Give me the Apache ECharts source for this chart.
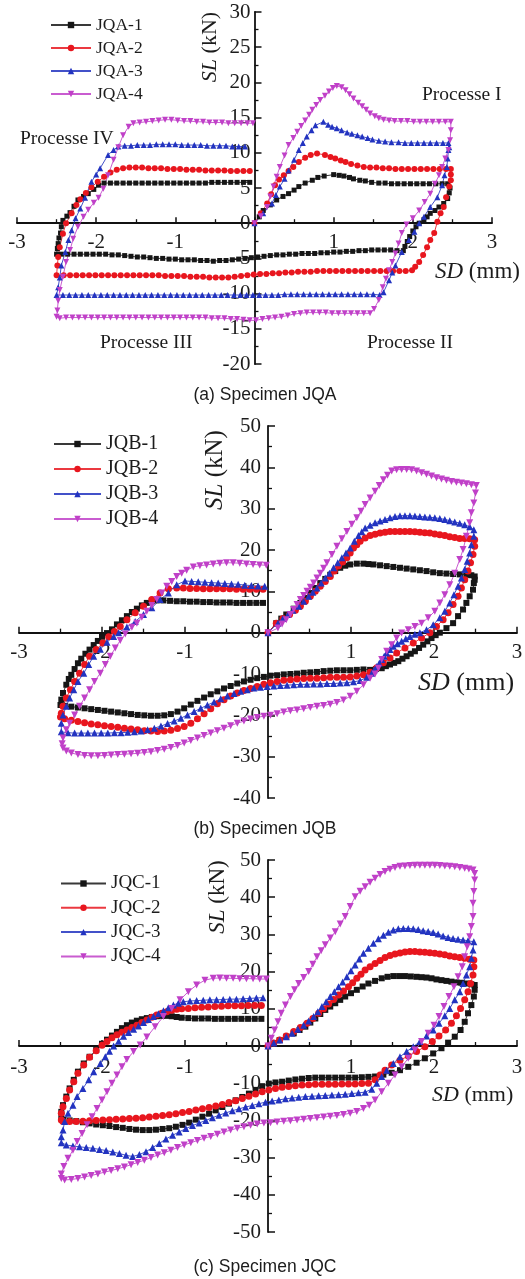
<!DOCTYPE html>
<html>
<head>
<meta charset="utf-8">
<script src="https://cdn.jsdelivr.net/npm/echarts@6/dist/echarts.min.js"></script>
<style>
html, body { margin: 0; padding: 0; background: #fff; }
#chart { width: 525px; height: 1279px; }
</style>
</head>
<body>
<div id="chart"></div>
<script>
// legend names
const namesA = ['JQA-1', 'JQA-2', 'JQA-3', 'JQA-4'];
const namesB = ['JQB-1', 'JQB-2', 'JQB-3', 'JQB-4'];
const namesC = ['JQC-1', 'JQC-2', 'JQC-3', 'JQC-4'];
const captions = ['(a) Specimen JQA', '(b) Specimen JQB', '(c) Specimen JQC'];

// (a) Specimen JQA  -- [SD mm, SL kN] read along each loop
const jqa1 = [[0,0],[0.06,0.9],[0.11,1.8],[0.2,2.6],[0.28,3.3],[0.36,3.8],[0.43,4.2],[0.5,4.7],[0.56,5.2],[0.64,5.7],[0.73,6.1],[0.8,6.5],[0.88,6.7],[1.0,6.9],[1.07,6.8],[1.13,6.7],[1.2,6.5],[1.25,6.3],[1.33,6.1],[1.4,6.0],[1.48,5.8],[1.57,5.7],[1.65,5.7],[1.73,5.6],[1.81,5.6],[1.89,5.6],[1.97,5.6],[2.05,5.6],[2.13,5.6],[2.21,5.6],[2.29,5.6],[2.37,5.6],[2.44,5.6],
  [2.47,5.0],[2.46,4.3],[2.44,3.5],[2.39,2.8],[2.33,2.3],[2.28,1.8],[2.22,1.4],[2.18,0.9],[2.14,0.5],[2.08,0],[2.04,-0.5],[2.0,-1.1],[1.96,-1.9],[1.93,-2.6],[1.9,-3.3],[1.88,-3.9],
  [1.8,-3.9],[1.72,-3.8],[1.64,-3.8],[1.56,-3.8],[1.48,-3.8],[1.4,-3.9],[1.32,-3.9],[1.24,-4.0],[1.16,-4.0],[1.08,-4.1],[1.0,-4.1],[0.92,-4.2],[0.84,-4.2],[0.76,-4.3],[0.68,-4.3],[0.6,-4.3],[0.52,-4.4],[0.44,-4.4],[0.36,-4.5],[0.28,-4.5],[0.2,-4.6],[0.12,-4.7],[0.04,-4.8],[-0.04,-4.9],[-0.12,-5.0],[-0.2,-5.1],[-0.28,-5.2],[-0.36,-5.3],[-0.44,-5.3],[-0.52,-5.4],[-0.6,-5.3],[-0.68,-5.3],[-0.76,-5.2],[-0.84,-5.2],[-0.92,-5.2],[-1.0,-5.1],[-1.08,-5.1],[-1.16,-5.0],[-1.24,-5.0],[-1.32,-4.9],[-1.4,-4.8],[-1.48,-4.8],[-1.56,-4.7],[-1.64,-4.6],[-1.72,-4.5],[-1.8,-4.5],[-1.88,-4.4],[-1.96,-4.4],[-2.04,-4.4],[-2.12,-4.4],[-2.2,-4.4],[-2.28,-4.4],[-2.36,-4.4],[-2.44,-4.4],[-2.5,-4.4],
  [-2.49,-3.6],[-2.48,-2.9],[-2.47,-2.1],[-2.45,-1.4],[-2.44,-0.5],[-2.42,0.4],[-2.37,1.0],[-2.33,1.5],[-2.28,2.4],[-2.23,3.3],[-2.16,3.8],[-2.1,4.2],[-2.03,4.8],[-1.97,5.4],[-1.9,5.7],
  [-1.82,5.7],[-1.74,5.7],[-1.66,5.7],[-1.58,5.7],[-1.5,5.7],[-1.42,5.7],[-1.34,5.7],[-1.26,5.7],[-1.18,5.7],[-1.1,5.7],[-1.02,5.7],[-0.94,5.7],[-0.86,5.7],[-0.78,5.7],[-0.7,5.7],[-0.62,5.7],[-0.54,5.8],[-0.46,5.8],[-0.38,5.8],[-0.3,5.8],[-0.22,5.8],[-0.14,5.8],[-0.06,5.8]];

const jqa2 = [[0,0],[0.08,1.4],[0.16,2.8],[0.21,4.1],[0.26,5.4],[0.31,6.2],[0.37,6.8],[0.43,7.4],[0.49,8.0],[0.56,8.7],[0.64,9.3],[0.71,9.7],[0.79,9.9],[0.89,9.7],[0.96,9.4],[1.02,9.2],[1.09,8.9],[1.15,8.7],[1.22,8.4],[1.3,8.2],[1.38,8.0],[1.46,7.9],[1.54,7.9],[1.62,7.8],[1.7,7.8],[1.78,7.7],[1.86,7.7],[1.94,7.7],[2.02,7.7],[2.1,7.7],[2.18,7.7],[2.26,7.7],[2.34,7.7],[2.42,7.7],[2.48,7.7],
  [2.48,6.9],[2.48,6.1],[2.46,5.2],[2.42,3.7],[2.39,2.3],[2.35,1.4],[2.31,0.2],[2.27,-1.4],[2.22,-2.4],[2.18,-3.4],[2.13,-4.5],[2.08,-5.5],[2.03,-6.2],[1.99,-6.7],
  [1.91,-6.8],[1.83,-6.8],[1.75,-6.8],[1.67,-6.8],[1.59,-6.8],[1.51,-6.8],[1.43,-6.8],[1.35,-6.8],[1.27,-6.8],[1.19,-6.8],[1.11,-6.8],[1.03,-6.8],[0.95,-6.8],[0.87,-6.8],[0.79,-6.8],[0.71,-6.9],[0.63,-6.9],[0.55,-6.9],[0.47,-7.0],[0.39,-7.0],[0.31,-7.1],[0.23,-7.1],[0.15,-7.2],[0.07,-7.2],[-0.01,-7.3],[-0.09,-7.4],[-0.17,-7.5],[-0.25,-7.6],[-0.33,-7.7],[-0.41,-7.7],[-0.49,-7.7],[-0.57,-7.7],[-0.65,-7.6],[-0.73,-7.6],[-0.81,-7.6],[-0.89,-7.5],[-0.97,-7.5],[-1.05,-7.5],[-1.13,-7.5],[-1.21,-7.4],[-1.29,-7.4],[-1.37,-7.4],[-1.45,-7.4],[-1.53,-7.4],[-1.61,-7.4],[-1.69,-7.4],[-1.77,-7.4],[-1.85,-7.4],[-1.93,-7.4],[-2.01,-7.4],[-2.09,-7.4],[-2.17,-7.4],[-2.25,-7.4],[-2.33,-7.4],[-2.41,-7.4],[-2.5,-7.4],
  [-2.49,-6.0],[-2.48,-4.8],[-2.46,-3.4],[-2.42,-1.5],[-2.38,0],[-2.31,1.4],[-2.25,2.6],[-2.2,3.4],[-2.13,4.3],[-2.06,5.1],[-1.98,5.9],[-1.9,6.6],[-1.82,7.2],[-1.74,7.6],[-1.66,7.8],
  [-1.58,7.9],[-1.5,7.9],[-1.42,7.9],[-1.34,7.8],[-1.26,7.8],[-1.18,7.8],[-1.1,7.7],[-1.02,7.7],[-0.94,7.7],[-0.86,7.6],[-0.78,7.6],[-0.7,7.6],[-0.62,7.5],[-0.54,7.5],[-0.46,7.5],[-0.38,7.5],[-0.3,7.4],[-0.22,7.4],[-0.14,7.4],[-0.06,7.4]];

const jqa3 = [[0,0],[0.11,1.4],[0.22,2.8],[0.27,4.0],[0.32,5.2],[0.38,6.3],[0.43,7.5],[0.5,9.0],[0.56,10.4],[0.61,11.4],[0.66,12.3],[0.72,13.2],[0.77,13.9],[0.87,14.4],[0.93,14.0],[0.98,13.7],[1.04,13.5],[1.1,13.2],[1.17,12.9],[1.23,12.7],[1.3,12.5],[1.36,12.3],[1.43,12.1],[1.49,11.9],[1.57,11.7],[1.65,11.6],[1.73,11.5],[1.82,11.5],[1.9,11.4],[1.98,11.4],[2.06,11.4],[2.14,11.4],[2.22,11.4],[2.3,11.4],[2.38,11.4],[2.45,11.4],
  [2.46,10.8],[2.45,10.4],[2.44,9.2],[2.43,8.0],[2.4,6.8],[2.37,5.4],[2.31,3.7],[2.22,2.3],[2.14,0.9],[2.08,0],[2.02,-1.2],[1.95,-2.4],[1.86,-4.1],[1.78,-6.0],[1.74,-7.0],[1.7,-8.1],[1.63,-9.8],[1.58,-10.2],
  [1.5,-10.1],[1.42,-10.1],[1.34,-10.1],[1.26,-10.1],[1.18,-10.1],[1.1,-10.1],[1.02,-10.1],[0.94,-10.1],[0.86,-10.1],[0.78,-10.1],[0.7,-10.1],[0.62,-10.1],[0.54,-10.1],[0.46,-10.1],[0.38,-10.1],[0.3,-10.2],[0.22,-10.2],[0.14,-10.2],[0.06,-10.2],[-0.02,-10.2],[-0.1,-10.2],[-0.18,-10.2],[-0.26,-10.2],[-0.34,-10.2],[-0.42,-10.2],[-0.5,-10.2],[-0.58,-10.2],[-0.66,-10.2],[-0.74,-10.2],[-0.82,-10.2],[-0.9,-10.2],[-0.98,-10.2],[-1.06,-10.2],[-1.14,-10.2],[-1.22,-10.2],[-1.3,-10.2],[-1.38,-10.2],[-1.46,-10.2],[-1.54,-10.2],[-1.62,-10.2],[-1.7,-10.2],[-1.78,-10.2],[-1.86,-10.2],[-1.94,-10.2],[-2.02,-10.2],[-2.1,-10.2],[-2.18,-10.2],[-2.26,-10.2],[-2.34,-10.2],[-2.42,-10.2],[-2.5,-10.2],
  [-2.48,-9.1],[-2.46,-7.7],[-2.44,-6.0],[-2.39,-4.1],[-2.35,-2.4],[-2.31,-1.0],[-2.26,0.7],[-2.2,2.1],[-2.14,3.6],[-2.06,5.9],[-2.0,6.9],[-1.95,7.8],[-1.85,9.7],[-1.78,10.4],[-1.72,10.9],
  [-1.64,11.0],[-1.56,11.0],[-1.48,11.1],[-1.4,11.1],[-1.32,11.1],[-1.24,11.2],[-1.16,11.2],[-1.08,11.2],[-1.0,11.2],[-0.92,11.1],[-0.84,11.1],[-0.76,11.1],[-0.68,11.1],[-0.6,11.0],[-0.52,11.0],[-0.44,11.0],[-0.36,11.0],[-0.28,10.9],[-0.2,10.9],[-0.12,10.9]];

const jqa4 = [[0,0],[0.08,1.0],[0.16,2.3],[0.2,3.8],[0.24,5.2],[0.28,6.6],[0.32,8.0],[0.38,9.6],[0.43,11.1],[0.49,12.1],[0.54,13.0],[0.59,13.8],[0.64,14.6],[0.69,15.4],[0.73,16.1],[0.78,16.8],[0.83,17.5],[0.89,18.1],[0.94,18.7],[0.99,19.2],[1.04,19.5],[1.1,19.3],[1.15,18.9],[1.2,18.3],[1.25,17.7],[1.31,17.1],[1.36,16.6],[1.41,16.1],[1.46,15.6],[1.52,15.2],[1.57,14.9],[1.63,14.7],[1.7,14.6],[1.77,14.5],[1.85,14.5],[1.93,14.5],[2.01,14.4],[2.09,14.4],[2.17,14.4],[2.25,14.4],[2.33,14.4],[2.41,14.4],[2.48,14.4],
  [2.48,13.2],[2.47,11.8],[2.45,10.4],[2.41,9.2],[2.37,8.0],[2.33,6.8],[2.28,5.6],[2.22,4.2],[2.15,3.0],[2.08,1.8],[2.0,0.7],[1.92,-0.2],[1.86,-1.4],[1.82,-2.9],[1.78,-4.3],[1.74,-5.5],[1.7,-6.7],[1.66,-7.9],[1.62,-9.1],[1.57,-10.9],[1.51,-12.2],[1.46,-12.8],
  [1.38,-12.8],[1.3,-12.8],[1.22,-12.8],[1.14,-12.8],[1.06,-12.8],[0.98,-12.8],[0.9,-12.7],[0.82,-12.7],[0.74,-12.7],[0.66,-12.7],[0.58,-12.8],[0.5,-12.9],[0.42,-13.1],[0.34,-13.3],[0.26,-13.4],[0.18,-13.5],[0.1,-13.6],[0.02,-13.8],[-0.06,-13.8],[-0.14,-13.7],[-0.22,-13.6],[-0.3,-13.6],[-0.38,-13.5],[-0.46,-13.5],[-0.54,-13.5],[-0.62,-13.4],[-0.7,-13.4],[-0.78,-13.4],[-0.86,-13.4],[-0.94,-13.4],[-1.02,-13.4],[-1.1,-13.4],[-1.18,-13.4],[-1.26,-13.4],[-1.34,-13.4],[-1.42,-13.4],[-1.5,-13.4],[-1.58,-13.4],[-1.66,-13.4],[-1.74,-13.4],[-1.82,-13.4],[-1.9,-13.4],[-1.98,-13.4],[-2.06,-13.4],[-2.14,-13.4],[-2.22,-13.4],[-2.3,-13.4],[-2.38,-13.4],[-2.46,-13.5],[-2.5,-13.3],
  [-2.49,-12.4],[-2.48,-11.0],[-2.46,-9.5],[-2.42,-7.6],[-2.38,-5.5],[-2.33,-3.8],[-2.29,-2.2],[-2.23,-0.5],[-2.16,0.9],[-2.1,1.9],[-2.03,2.9],[-1.97,3.6],[-1.91,4.9],[-1.85,6.8],[-1.78,9.0],[-1.72,10.8],[-1.66,12.5],[-1.59,13.7],[-1.53,14.2],
  [-1.45,14.3],[-1.37,14.4],[-1.29,14.5],[-1.21,14.6],[-1.13,14.7],[-1.05,14.7],[-0.97,14.6],[-0.89,14.5],[-0.81,14.5],[-0.73,14.4],[-0.65,14.4],[-0.57,14.3],[-0.49,14.3],[-0.41,14.3],[-0.33,14.2],[-0.25,14.2],[-0.17,14.2],[-0.09,14.2],[-0.02,14.2]];

// (b) Specimen JQB
const jqb1 = [[0,0],[0.1,2.3],[0.16,3.4],[0.22,4.4],[0.31,5.8],[0.39,7.2],[0.45,8.4],[0.51,9.6],[0.57,10.8],[0.63,12.0],[0.69,13.0],[0.75,14.0],[0.81,14.9],[0.87,15.7],[0.93,16.2],[0.99,16.5],[1.07,16.7],[1.15,16.7],[1.21,16.6],[1.27,16.5],[1.35,16.3],[1.43,16.1],[1.51,15.9],[1.59,15.7],[1.67,15.5],[1.75,15.3],[1.83,15.1],[1.91,14.9],[1.99,14.6],[2.07,14.4],[2.15,14.3],[2.23,14.2],[2.31,14.1],[2.39,14.0],[2.45,13.9],[2.49,13.6],
  [2.49,12.8],[2.48,12.0],[2.47,10.4],[2.43,8.8],[2.39,7.2],[2.35,5.6],[2.29,4.0],[2.23,2.3],[2.15,1.1],[2.07,0],[2.02,-0.6],[1.97,-1.3],[1.92,-2.1],[1.87,-2.9],[1.82,-3.7],[1.77,-4.5],[1.72,-5.1],[1.67,-5.7],[1.62,-6.3],[1.57,-6.9],[1.52,-7.3],[1.47,-7.7],[1.42,-8.1],[1.37,-8.6],[1.3,-8.8],[1.23,-9.0],
  [1.15,-8.9],[1.07,-9.0],[0.99,-9.1],[0.91,-9.1],[0.83,-9.1],[0.75,-9.2],[0.67,-9.3],[0.59,-9.5],[0.51,-9.6],[0.43,-9.7],[0.35,-9.9],[0.27,-10.0],[0.19,-10.1],[0.11,-10.3],[0.03,-10.4],[-0.05,-10.7],[-0.13,-11.0],[-0.21,-11.4],[-0.29,-11.8],[-0.37,-12.3],[-0.45,-12.9],[-0.53,-13.5],[-0.61,-14.2],[-0.69,-14.9],[-0.77,-15.7],[-0.85,-16.5],[-0.93,-17.4],[-1.01,-18.3],[-1.09,-19.1],[-1.17,-19.7],[-1.25,-20.0],[-1.33,-20.1],[-1.41,-20.1],[-1.49,-20.0],[-1.57,-19.9],[-1.65,-19.7],[-1.73,-19.5],[-1.81,-19.3],[-1.89,-19.1],[-1.97,-18.9],[-2.05,-18.7],[-2.13,-18.5],[-2.21,-18.3],[-2.29,-18.1],[-2.37,-17.9],[-2.45,-17.7],[-2.5,-17.5],
  [-2.49,-16.2],[-2.47,-14.6],[-2.43,-12.6],[-2.4,-11.2],[-2.37,-10.2],[-2.33,-8.8],[-2.29,-7.4],[-2.25,-6.3],[-2.2,-5.1],[-2.15,-4.1],[-2.1,-3.0],[-2.05,-2.0],[-2.0,-1.0],[-1.94,-0.1],[-1.88,0.8],[-1.82,2.0],[-1.76,3.0],[-1.7,4.0],[-1.64,5.0],[-1.58,5.8],[-1.52,6.6],[-1.46,7.2],[-1.4,7.6],[-1.34,7.8],
  [-1.26,7.8],[-1.18,7.7],[-1.1,7.6],[-1.02,7.6],[-0.94,7.5],[-0.86,7.5],[-0.78,7.4],[-0.7,7.4],[-0.62,7.3],[-0.54,7.3],[-0.46,7.3],[-0.38,7.2],[-0.3,7.2],[-0.22,7.2],[-0.14,7.2],[-0.06,7.2]];

const jqb2 = [[0,0],[0.1,2.3],[0.18,3.4],[0.26,4.4],[0.33,5.4],[0.39,6.4],[0.45,7.6],[0.51,8.8],[0.57,10.0],[0.63,11.2],[0.69,12.4],[0.75,13.6],[0.8,14.9],[0.85,16.1],[0.9,17.1],[0.95,18.1],[0.99,19.3],[1.03,20.5],[1.07,21.3],[1.11,22.1],[1.17,22.9],[1.23,23.5],[1.29,23.8],[1.35,24.1],[1.41,24.3],[1.47,24.5],[1.53,24.5],[1.59,24.5],[1.65,24.5],[1.71,24.5],[1.77,24.4],[1.83,24.3],[1.89,24.2],[1.95,24.1],[2.01,23.9],[2.07,23.7],[2.13,23.5],[2.19,23.2],[2.25,23.0],[2.31,22.8],[2.37,22.8],[2.43,22.7],[2.49,22.5],
  [2.49,20.9],[2.47,18.9],[2.44,16.9],[2.41,14.9],[2.37,12.8],[2.33,10.8],[2.29,8.8],[2.23,6.8],[2.17,4.8],[2.11,3.1],[2.03,1.5],[1.95,0],[1.85,-1.3],[1.75,-2.5],[1.65,-3.7],[1.55,-4.9],[1.47,-6.1],[1.39,-7.3],[1.31,-8.5],[1.23,-9.6],[1.15,-10.2],
  [1.07,-10.5],[0.99,-10.7],[0.91,-10.8],[0.83,-10.8],[0.75,-10.8],[0.67,-10.9],[0.59,-11.0],[0.51,-11.0],[0.43,-11.1],[0.35,-11.2],[0.27,-11.4],[0.19,-11.5],[0.11,-11.8],[0.03,-12.1],[-0.05,-12.5],[-0.13,-13.0],[-0.21,-13.5],[-0.29,-14.0],[-0.37,-14.6],[-0.45,-15.3],[-0.53,-16.2],[-0.61,-17.2],[-0.69,-18.4],[-0.77,-19.6],[-0.85,-20.8],[-0.93,-21.9],[-1.01,-22.7],[-1.09,-23.2],[-1.17,-23.6],[-1.25,-23.8],[-1.33,-23.9],[-1.41,-23.8],[-1.49,-23.7],[-1.57,-23.5],[-1.65,-23.3],[-1.73,-23.1],[-1.81,-22.9],[-1.89,-22.7],[-1.97,-22.5],[-2.05,-22.3],[-2.13,-22.1],[-2.21,-21.8],[-2.29,-21.5],[-2.37,-21.2],[-2.45,-20.8],[-2.5,-20.4],
  [-2.49,-19.5],[-2.47,-17.8],[-2.43,-15.8],[-2.38,-13.8],[-2.33,-11.8],[-2.27,-9.8],[-2.21,-7.7],[-2.15,-5.7],[-2.07,-4.1],[-1.99,-2.5],[-1.92,-1.0],[-1.85,0.3],[-1.78,1.5],[-1.7,3.1],[-1.6,4.8],[-1.5,6.4],[-1.4,8.0],[-1.3,9.6],[-1.2,10.6],[-1.1,10.8],
  [-1.02,10.8],[-0.94,10.7],[-0.86,10.7],[-0.78,10.6],[-0.7,10.6],[-0.62,10.6],[-0.54,10.6],[-0.46,10.6],[-0.38,10.5],[-0.3,10.5],[-0.22,10.5],[-0.14,10.5],[-0.06,10.5]];

const jqb3 = [[0,0],[0.12,2.3],[0.18,3.4],[0.24,4.4],[0.3,5.4],[0.37,6.4],[0.43,7.6],[0.49,8.8],[0.54,9.8],[0.59,10.8],[0.64,12.0],[0.69,13.2],[0.74,14.4],[0.79,15.7],[0.84,16.9],[0.89,18.1],[0.94,19.3],[0.99,20.5],[1.04,22.1],[1.09,23.5],[1.13,24.4],[1.17,25.3],[1.23,26.0],[1.29,26.6],[1.35,27.0],[1.41,27.4],[1.47,27.8],[1.53,28.1],[1.59,28.3],[1.65,28.3],[1.71,28.3],[1.77,28.2],[1.83,28.1],[1.89,28.0],[1.95,27.9],[2.01,27.8],[2.07,27.6],[2.13,27.4],[2.19,27.1],[2.25,26.8],[2.31,26.5],[2.37,26.1],[2.43,25.6],[2.48,24.9],
  [2.48,23.3],[2.45,21.3],[2.43,19.3],[2.4,17.3],[2.37,15.3],[2.33,13.2],[2.29,11.2],[2.24,9.2],[2.19,7.2],[2.13,5.2],[2.07,3.6],[1.99,1.9],[1.91,0.7],[1.83,0],[1.77,-0.4],[1.71,-0.9],[1.66,-1.5],[1.61,-2.1],[1.56,-2.7],[1.51,-3.3],[1.47,-4.1],[1.43,-4.9],[1.4,-5.7],[1.37,-6.5],[1.34,-7.4],[1.31,-8.2],[1.28,-9.0],[1.25,-9.8],[1.19,-10.8],[1.11,-11.6],
  [1.03,-11.9],[0.95,-12.1],[0.87,-12.2],[0.79,-12.3],[0.71,-12.3],[0.63,-12.4],[0.55,-12.4],[0.47,-12.5],[0.39,-12.5],[0.31,-12.6],[0.23,-12.7],[0.15,-12.8],[0.07,-12.9],[-0.01,-13.0],[-0.09,-13.2],[-0.17,-13.4],[-0.25,-13.8],[-0.33,-14.2],[-0.41,-14.7],[-0.49,-15.3],[-0.57,-16.0],[-0.65,-16.8],[-0.73,-17.5],[-0.81,-18.3],[-0.89,-19.1],[-0.97,-19.9],[-1.05,-20.7],[-1.13,-21.4],[-1.21,-22.0],[-1.29,-22.6],[-1.37,-23.1],[-1.45,-23.5],[-1.53,-23.8],[-1.61,-24.0],[-1.69,-24.1],[-1.77,-24.2],[-1.85,-24.2],[-1.93,-24.3],[-2.01,-24.3],[-2.09,-24.3],[-2.17,-24.3],[-2.25,-24.3],[-2.33,-24.3],[-2.41,-24.2],[-2.49,-24.0],
  [-2.49,-21.9],[-2.47,-19.9],[-2.43,-17.8],[-2.39,-15.8],[-2.34,-13.8],[-2.29,-11.8],[-2.22,-9.8],[-2.16,-7.7],[-2.1,-5.7],[-2.02,-4.0],[-1.94,-2.3],[-1.86,-0.9],[-1.8,0],[-1.7,1.4],[-1.6,2.7],[-1.5,4.4],[-1.4,6.0],[-1.3,8.0],[-1.2,9.6],[-1.1,11.6],[-1.0,12.5],
  [-0.92,12.4],[-0.84,12.3],[-0.76,12.2],[-0.68,12.1],[-0.6,12.0],[-0.52,11.9],[-0.44,11.8],[-0.36,11.7],[-0.28,11.5],[-0.2,11.4],[-0.12,11.3],[-0.04,11.2]];

const jqb4 = [[0,0],[0.12,1.1],[0.17,2.1],[0.22,3.1],[0.27,4.4],[0.31,5.6],[0.35,6.8],[0.39,8.0],[0.43,9.0],[0.47,10.0],[0.51,11.0],[0.55,12.0],[0.59,13.2],[0.63,14.4],[0.67,15.6],[0.71,16.9],[0.77,18.9],[0.83,20.9],[0.89,22.7],[0.95,24.5],[1.01,26.2],[1.07,27.8],[1.12,29.4],[1.17,31.0],[1.23,32.6],[1.29,34.2],[1.34,35.6],[1.39,37.0],[1.44,38.1],[1.49,39.1],[1.55,39.4],[1.61,39.5],[1.67,39.5],[1.73,39.4],[1.79,39.1],[1.85,38.7],[1.91,38.3],[1.97,37.9],[2.03,37.5],[2.09,37.2],[2.15,36.9],[2.21,36.6],[2.27,36.4],[2.33,36.2],[2.39,36.0],[2.45,35.8],[2.51,35.6],
  [2.5,33.8],[2.48,31.4],[2.45,29.0],[2.43,26.6],[2.39,23.3],[2.35,20.1],[2.31,17.7],[2.25,14.4],[2.19,11.6],[2.13,9.2],[2.07,7.2],[2.01,5.2],[1.93,3.6],[1.85,2.3],[1.77,1.5],[1.69,0.7],[1.61,-0.1],[1.55,-1.3],[1.49,-2.9],[1.43,-4.5],[1.37,-6.5],[1.33,-8.6],[1.29,-10.0],[1.23,-11.0],[1.15,-12.6],[1.07,-14.2],[0.99,-15.4],[0.91,-16.3],[0.83,-16.9],[0.75,-17.3],
  [0.67,-17.6],[0.59,-17.8],[0.51,-18.1],[0.43,-18.4],[0.35,-18.7],[0.27,-18.9],[0.19,-19.2],[0.11,-19.6],[0.03,-20.0],[-0.05,-20.2],[-0.13,-20.5],[-0.21,-20.9],[-0.29,-21.4],[-0.37,-21.9],[-0.45,-22.5],[-0.53,-23.1],[-0.61,-23.7],[-0.69,-24.3],[-0.77,-24.9],[-0.85,-25.5],[-0.93,-26.1],[-1.01,-26.7],[-1.09,-27.3],[-1.17,-27.8],[-1.25,-28.2],[-1.33,-28.5],[-1.41,-28.8],[-1.49,-29.0],[-1.57,-29.2],[-1.65,-29.3],[-1.73,-29.4],[-1.81,-29.5],[-1.89,-29.6],[-1.97,-29.7],[-2.05,-29.8],[-2.13,-29.8],[-2.21,-29.7],[-2.29,-29.5],[-2.37,-29.1],[-2.43,-28.6],[-2.47,-27.9],[-2.48,-26.9],[-2.47,-25.5],
  [-2.43,-23.5],[-2.39,-21.9],[-2.33,-19.9],[-2.27,-17.8],[-2.21,-15.8],[-2.15,-13.8],[-2.09,-11.8],[-2.02,-9.8],[-1.96,-7.7],[-1.9,-5.7],[-1.84,-3.7],[-1.78,-1.9],[-1.72,-0.3],[-1.64,1.3],[-1.58,2.3],[-1.52,3.7],[-1.46,5.2],[-1.4,6.6],[-1.34,8.0],[-1.28,9.6],[-1.22,11.2],[-1.16,12.4],[-1.1,13.6],[-1.04,14.4],[-0.98,15.1],
  [-0.9,15.9],[-0.82,16.2],[-0.74,16.4],[-0.66,16.6],[-0.58,16.8],[-0.5,16.9],[-0.42,16.9],[-0.34,16.8],[-0.26,16.6],[-0.18,16.5],[-0.1,16.4],[-0.02,16.3]];

// (c) Specimen JQC
const jqc1 = [[0,0],[0.07,0.8],[0.14,1.6],[0.22,2.5],[0.31,3.4],[0.38,4.3],[0.45,5.2],[0.51,6.3],[0.57,7.4],[0.63,8.6],[0.69,9.7],[0.75,10.6],[0.81,11.5],[0.87,12.4],[0.93,13.3],[1.0,14.2],[1.07,15.1],[1.14,16.0],[1.21,16.8],[1.29,17.5],[1.37,18.2],[1.44,18.6],[1.51,18.8],[1.58,18.8],[1.65,18.8],[1.72,18.7],[1.79,18.6],[1.85,18.5],[1.91,18.4],[1.97,18.2],[2.03,17.9],[2.09,17.7],[2.15,17.5],[2.21,17.3],[2.27,17.1],[2.33,17.0],[2.39,16.8],[2.45,16.6],[2.49,16.4],
  [2.49,15.1],[2.48,13.3],[2.45,11.0],[2.41,8.8],[2.37,6.5],[2.32,4.3],[2.25,2.5],[2.17,0.9],[2.09,-0.6],[1.99,-2.0],[1.89,-3.3],[1.79,-4.5],[1.69,-5.6],[1.59,-6.5],[1.49,-7.2],[1.39,-7.7],[1.29,-8.2],
  [1.21,-8.3],[1.13,-8.4],[1.05,-8.5],[0.97,-8.5],[0.89,-8.5],[0.81,-8.5],[0.73,-8.5],[0.65,-8.5],[0.57,-8.5],[0.49,-8.6],[0.41,-8.8],[0.33,-9.0],[0.25,-9.3],[0.17,-9.6],[0.09,-9.8],[0.01,-10.1],[-0.07,-10.8],[-0.15,-11.8],[-0.23,-12.8],[-0.31,-13.7],[-0.39,-14.6],[-0.47,-15.5],[-0.55,-16.4],[-0.63,-17.3],[-0.71,-18.2],[-0.79,-19.0],[-0.87,-19.8],[-0.95,-20.6],[-1.03,-21.2],[-1.11,-21.7],[-1.19,-22.1],[-1.27,-22.3],[-1.35,-22.5],[-1.43,-22.6],[-1.51,-22.6],[-1.59,-22.5],[-1.67,-22.3],[-1.75,-22.0],[-1.83,-21.8],[-1.91,-21.5],[-1.99,-21.3],[-2.07,-21.1],[-2.15,-20.8],[-2.23,-20.5],[-2.31,-20.2],[-2.39,-20.0],[-2.47,-19.8],
  [-2.49,-19.4],[-2.49,-17.7],[-2.47,-15.9],[-2.43,-13.6],[-2.39,-11.4],[-2.34,-9.1],[-2.29,-6.9],[-2.22,-4.7],[-2.15,-2.9],[-2.07,-1.1],[-2.0,0.6],[-1.94,1.7],[-1.88,2.8],[-1.82,3.8],[-1.76,4.8],[-1.7,5.6],[-1.64,6.3],[-1.58,6.8],[-1.52,7.2],[-1.46,7.5],[-1.4,7.8],[-1.34,8.0],[-1.28,8.1],[-1.22,8.1],[-1.16,8.0],[-1.1,7.8],[-1.04,7.6],
  [-0.96,7.5],[-0.88,7.4],[-0.8,7.4],[-0.72,7.4],[-0.64,7.3],[-0.56,7.3],[-0.48,7.3],[-0.4,7.3],[-0.32,7.3],[-0.24,7.3],[-0.16,7.3],[-0.08,7.3]];

const jqc2 = [[0,0],[0.07,0.8],[0.14,1.6],[0.22,2.7],[0.31,3.9],[0.39,5.0],[0.47,6.1],[0.54,7.4],[0.61,8.8],[0.67,10.0],[0.73,11.3],[0.79,12.5],[0.85,13.7],[0.91,14.8],[0.97,15.9],[1.02,17.0],[1.07,18.2],[1.12,19.3],[1.17,20.4],[1.23,21.3],[1.29,22.2],[1.35,23.0],[1.41,23.8],[1.47,24.3],[1.53,24.7],[1.59,25.0],[1.65,25.3],[1.71,25.4],[1.77,25.4],[1.83,25.3],[1.89,25.2],[1.95,25.1],[2.01,24.9],[2.07,24.7],[2.13,24.5],[2.19,24.2],[2.25,24.0],[2.31,23.8],[2.37,23.6],[2.43,23.3],[2.48,23.1],
  [2.48,21.3],[2.47,19.1],[2.44,16.8],[2.41,14.6],[2.37,12.4],[2.32,10.1],[2.27,8.1],[2.21,6.1],[2.14,4.3],[2.06,2.7],[1.98,1.2],[1.89,-0.2],[1.79,-1.5],[1.69,-2.7],[1.59,-3.8],[1.49,-5.1],[1.41,-6.5],[1.35,-7.8],[1.29,-9.1],[1.21,-10.0],
  [1.13,-10.1],[1.05,-10.2],[0.97,-10.2],[0.89,-10.2],[0.81,-10.3],[0.73,-10.3],[0.65,-10.3],[0.57,-10.3],[0.49,-10.4],[0.41,-10.5],[0.33,-10.7],[0.25,-10.9],[0.17,-11.1],[0.09,-11.4],[0.01,-11.8],[-0.07,-12.3],[-0.15,-12.9],[-0.23,-13.5],[-0.31,-14.1],[-0.39,-14.7],[-0.47,-15.2],[-0.55,-15.7],[-0.63,-16.1],[-0.71,-16.5],[-0.79,-16.9],[-0.87,-17.2],[-0.95,-17.6],[-1.03,-17.9],[-1.11,-18.2],[-1.19,-18.5],[-1.27,-18.7],[-1.35,-18.9],[-1.43,-19.1],[-1.51,-19.3],[-1.59,-19.4],[-1.67,-19.5],[-1.75,-19.6],[-1.83,-19.7],[-1.91,-19.8],[-1.99,-19.9],[-2.07,-20.0],[-2.15,-20.1],[-2.23,-20.2],[-2.31,-20.3],[-2.39,-20.3],[-2.47,-20.3],
  [-2.49,-19.9],[-2.49,-18.1],[-2.47,-16.3],[-2.43,-14.1],[-2.39,-11.8],[-2.34,-9.6],[-2.29,-7.3],[-2.22,-5.1],[-2.15,-3.0],[-2.07,-1.3],[-2.0,0.2],[-1.94,1.2],[-1.88,2.2],[-1.82,3.0],[-1.76,3.7],[-1.7,4.3],[-1.64,5.0],[-1.58,5.6],[-1.52,6.3],[-1.46,7.0],[-1.4,7.7],[-1.34,8.3],[-1.28,8.8],[-1.22,9.2],[-1.16,9.6],[-1.1,9.9],[-1.04,10.0],
  [-0.96,10.1],[-0.88,10.3],[-0.8,10.4],[-0.72,10.5],[-0.64,10.6],[-0.56,10.7],[-0.48,10.8],[-0.4,10.8],[-0.32,10.8],[-0.24,10.9],[-0.16,10.9],[-0.08,10.9]];

const jqc3 = [[0,0],[0.07,0.8],[0.14,1.6],[0.22,2.5],[0.29,3.4],[0.36,4.5],[0.43,5.6],[0.49,6.7],[0.55,7.9],[0.6,9.2],[0.65,10.6],[0.7,11.9],[0.75,13.3],[0.8,14.6],[0.85,15.9],[0.9,17.2],[0.95,18.6],[1.0,20.2],[1.05,21.8],[1.1,23.4],[1.15,24.9],[1.21,26.3],[1.27,27.6],[1.33,28.8],[1.39,29.8],[1.45,30.6],[1.51,31.2],[1.57,31.5],[1.63,31.6],[1.69,31.6],[1.75,31.5],[1.81,31.3],[1.87,31.0],[1.93,30.8],[1.99,30.5],[2.05,30.1],[2.11,29.6],[2.17,29.2],[2.23,28.9],[2.29,28.7],[2.35,28.5],[2.41,28.3],[2.48,28.0],
  [2.47,25.8],[2.45,23.6],[2.43,21.3],[2.39,19.1],[2.35,16.8],[2.31,14.6],[2.25,12.4],[2.19,10.1],[2.13,8.1],[2.06,6.1],[1.99,4.3],[1.91,2.7],[1.83,1.2],[1.75,-0.2],[1.67,-1.5],[1.59,-2.9],[1.51,-4.7],[1.43,-6.5],[1.37,-8.2],[1.31,-10.0],[1.25,-11.6],[1.17,-12.4],
  [1.09,-12.6],[1.01,-12.8],[0.93,-13.0],[0.85,-13.1],[0.77,-13.2],[0.69,-13.3],[0.61,-13.4],[0.53,-13.5],[0.45,-13.6],[0.37,-13.8],[0.29,-14.0],[0.21,-14.2],[0.13,-14.5],[0.05,-14.8],[-0.03,-15.1],[-0.11,-15.5],[-0.19,-16.0],[-0.27,-16.4],[-0.35,-16.9],[-0.43,-17.4],[-0.51,-18.0],[-0.59,-18.6],[-0.67,-19.3],[-0.75,-20.0],[-0.83,-20.7],[-0.91,-21.4],[-0.99,-22.2],[-1.07,-23.1],[-1.15,-24.0],[-1.23,-25.0],[-1.31,-26.2],[-1.39,-27.3],[-1.47,-28.4],[-1.55,-29.2],[-1.63,-29.7],[-1.71,-29.4],[-1.79,-28.9],[-1.87,-28.5],[-1.95,-28.1],[-2.03,-27.8],[-2.11,-27.5],[-2.19,-27.3],[-2.27,-27.1],[-2.35,-26.9],[-2.43,-26.6],[-2.49,-26.0],
  [-2.49,-24.4],[-2.47,-22.6],[-2.45,-20.3],[-2.41,-18.1],[-2.35,-15.9],[-2.3,-13.6],[-2.23,-11.4],[-2.16,-9.1],[-2.1,-6.9],[-2.02,-4.7],[-1.96,-2.9],[-1.91,-1.4],[-1.86,0],[-1.8,1.3],[-1.74,2.6],[-1.68,3.6],[-1.62,4.5],[-1.56,5.4],[-1.5,6.3],[-1.44,7.1],[-1.38,7.9],[-1.32,8.7],[-1.26,9.5],[-1.2,10.3],[-1.14,11.0],[-1.08,11.5],[-1.02,11.9],
  [-0.94,12.1],[-0.86,12.2],[-0.78,12.3],[-0.7,12.4],[-0.62,12.4],[-0.54,12.5],[-0.46,12.6],[-0.38,12.6],[-0.3,12.7],[-0.22,12.8],[-0.14,12.9],[-0.06,13.0]];

const jqc4 = [[0,0],[0.04,2.1],[0.08,4.3],[0.12,6.5],[0.16,8.8],[0.21,11.0],[0.27,13.3],[0.32,15.1],[0.37,16.8],[0.43,18.4],[0.49,20.0],[0.54,22.0],[0.59,24.0],[0.64,25.6],[0.69,27.2],[0.75,29.0],[0.81,30.7],[0.87,32.8],[0.93,34.8],[0.99,37.5],[1.05,40.1],[1.11,41.6],[1.17,42.8],[1.23,44.0],[1.29,45.1],[1.35,46.1],[1.41,46.9],[1.47,47.5],[1.53,48.0],[1.59,48.3],[1.65,48.4],[1.71,48.5],[1.77,48.6],[1.83,48.6],[1.89,48.6],[1.95,48.6],[2.01,48.6],[2.07,48.5],[2.13,48.4],[2.19,48.3],[2.25,48.2],[2.31,48.0],[2.37,47.8],[2.42,47.6],[2.47,47.3],[2.49,46.4],
  [2.49,44.6],[2.48,41.5],[2.47,38.4],[2.47,34.8],[2.45,32.1],[2.43,29.4],[2.4,26.7],[2.37,24.0],[2.34,21.3],[2.29,18.6],[2.24,15.9],[2.18,13.3],[2.12,10.6],[2.06,7.9],[2.0,5.6],[1.93,3.4],[1.85,1.2],[1.77,-1.1],[1.69,-3.3],[1.61,-5.6],[1.53,-7.8],[1.45,-10.0],[1.37,-12.3],[1.29,-14.5],[1.22,-15.9],[1.15,-16.8],[1.07,-17.6],
  [0.99,-18.1],[0.91,-18.4],[0.83,-18.7],[0.75,-18.9],[0.67,-19.1],[0.59,-19.3],[0.51,-19.5],[0.43,-19.7],[0.35,-19.9],[0.27,-20.1],[0.19,-20.2],[0.11,-20.4],[0.03,-20.6],[-0.05,-20.7],[-0.13,-21.0],[-0.21,-21.3],[-0.29,-21.7],[-0.37,-22.1],[-0.45,-22.6],[-0.53,-23.1],[-0.61,-23.7],[-0.69,-24.3],[-0.77,-24.8],[-0.85,-25.4],[-0.93,-26.0],[-1.01,-26.6],[-1.09,-27.3],[-1.17,-28.0],[-1.25,-28.7],[-1.33,-29.3],[-1.41,-30.0],[-1.49,-30.7],[-1.57,-31.3],[-1.65,-31.9],[-1.73,-32.5],[-1.81,-33.0],[-1.89,-33.5],[-1.97,-33.9],[-2.05,-34.4],[-2.13,-34.8],[-2.21,-35.2],[-2.29,-35.6],[-2.37,-35.9],[-2.45,-36.0],[-2.49,-35.6],
  [-2.49,-34.4],[-2.46,-32.4],[-2.41,-30.2],[-2.35,-28.0],[-2.3,-25.7],[-2.24,-23.5],[-2.18,-21.2],[-2.12,-19.0],[-2.06,-16.8],[-2.0,-14.5],[-1.94,-12.3],[-1.88,-10.0],[-1.82,-7.8],[-1.76,-5.6],[-1.7,-3.6],[-1.62,-1.5],[-1.54,0.3],[-1.46,2.4],[-1.36,5.2],[-1.26,7.9],[-1.16,10.1],[-1.06,12.4],[-0.96,14.6],[-0.86,16.4],[-0.76,17.7],
  [-0.66,18.2],[-0.58,18.3],[-0.5,18.2],[-0.42,18.2],[-0.34,18.1],[-0.26,18.1],[-0.18,18.1],[-0.1,18.0],[-0.02,18.0]];

const SERIF = '"Liberation Serif", "Times New Roman", Times, serif';
const SANS = '"Liberation Sans", Arial, Helvetica, sans-serif';
const INK = '#1c1c1c';
const colors = ['#161616', '#e8161e', '#2233c0', '#c040c8'];
const symbols = ['rect', 'circle', 'triangle', 'path://M0,0L10,0L5,9Z'];

// xShift: distance from grid bottom up to y = 0, yShift: distance from grid left to x = 0
const panels = [
    { names: namesA, data: [jqa1, jqa2, jqa3, jqa4], yMin: -20, yMax: 30, yStep: 5,
      grid: { left: 17, top: 12, width: 475, height: 352 }, sizes: [5, 6, 6, 6],
      legend: { left: 50, top: 16, itemWidth: 40, fontSize: 17.5, itemGap: 5 }, xMargin: 9, yMargin: 4 },
    { names: namesB, data: [jqb1, jqb2, jqb3, jqb4], yMin: -40, yMax: 50, yStep: 10,
      grid: { left: 19, top: 426, width: 498, height: 372 }, sizes: [6, 7, 7, 7],
      legend: { left: 53, top: 434, itemWidth: 47, fontSize: 20, itemGap: 5 }, xMargin: 9, yMargin: 7 },
    { names: namesC, data: [jqc1, jqc2, jqc3, jqc4], yMin: -50, yMax: 50, yStep: 10,
      grid: { left: 19, top: 860, width: 498, height: 372 }, sizes: [6, 7, 7, 7],
      legend: { left: 60, top: 874, itemWidth: 45, fontSize: 19, itemGap: 5.3 }, xMargin: 11, yMargin: 7 }
]
panels.forEach(p => {
    p.xShift = p.grid.height * (0 - p.yMin) / (p.yMax - p.yMin)
    p.yShift = p.grid.width / 2
})

const axisLine = { color: '#111', width: 1.8 }

const option = {
    animation: false,
    grid: panels.map(p => Object.assign({ containLabel: false, outerBoundsMode: 'none' }, p.grid)),
    xAxis: panels.map((p, i) => ({
        gridIndex: i, type: 'value', min: -3, max: 3, interval: 1,
        position: 'bottom', offset: -p.xShift,
        axisLine: { onZero: false, lineStyle: axisLine },
        axisTick: { inside: true, length: 6, lineStyle: { color: '#111', width: 1.5 } },
        minorTick: { show: true, splitNumber: 2, length: 4, lineStyle: { color: '#111', width: 1.3 } },
        splitLine: { show: false },
        axisLabel: { margin: p.xMargin, fontFamily: SERIF, fontSize: 21, color: INK,
            formatter: v => (v === 0 ? '' : String(v)) }
    })),
    yAxis: panels.map((p, i) => ({
        gridIndex: i, type: 'value', min: p.yMin, max: p.yMax, interval: p.yStep,
        position: 'left', offset: -p.yShift,
        axisLine: { onZero: false, lineStyle: axisLine },
        axisTick: { inside: true, length: 7, lineStyle: { color: '#111', width: 1.5 } },
        minorTick: { show: true, splitNumber: 2, length: 4, lineStyle: { color: '#111', width: 1.3 } },
        splitLine: { show: false },
        axisLabel: { margin: p.yMargin, fontFamily: SERIF, fontSize: 21, color: INK }
    })),
    legend: panels.map(p => ({
        orient: 'vertical', left: p.legend.left, top: p.legend.top, padding: 0,
        itemWidth: p.legend.itemWidth, itemHeight: 8, itemGap: p.legend.itemGap,
        selectedMode: false, data: p.names,
        textStyle: { fontFamily: SERIF, fontSize: p.legend.fontSize, color: INK }
    })),
    series: [],
    graphic: []
}

panels.forEach((p, i) => {
    p.data.forEach((d, k) => {
        option.series.push({
            name: p.names[k], type: 'line', xAxisIndex: i, yAxisIndex: i,
            data: d, symbol: symbols[k], symbolSize: p.sizes[k], showAllSymbol: true,
            color: colors[k],
            itemStyle: { color: colors[k] },
            lineStyle: { color: colors[k], width: 1, opacity: 0.85 },
            emphasis: { disabled: true }
        })
    })
})

// axis titles, captions and notes
const rotText = (x, y, size, italic, rest) => ({
    type: 'text', x: x, y: y, rotation: Math.PI / 2,
    style: { text: '{i|' + italic + '}' + rest, fontFamily: SERIF, fontSize: size, fill: INK,
        align: 'center', verticalAlign: 'middle',
        rich: { i: { fontStyle: 'italic', fontFamily: SERIF, fontSize: size, fill: INK } } }
})
const flatText = (x, y, size, italic, rest) => ({
    type: 'text', x: x, y: y,
    style: { text: '{i|' + italic + '}' + rest, fontFamily: SERIF, fontSize: size, fill: INK,
        align: 'left', verticalAlign: 'middle',
        rich: { i: { fontStyle: 'italic', fontFamily: SERIF, fontSize: size, fill: INK } } }
})
const note = (x, y, txt) => ({
    type: 'text', x: x, y: y,
    style: { text: txt, fontFamily: SERIF, fontSize: 19.5, fill: INK, align: 'left', verticalAlign: 'middle' }
})
const caption = (y, txt) => ({
    type: 'text', x: 265, y: y,
    style: { text: txt, fontFamily: SANS, fontSize: 17.5, fill: INK, align: 'center', verticalAlign: 'middle' }
})

option.graphic = [
    rotText(210, 47, 22, 'SL', ' (kN)'),
    rotText(215, 470, 25, 'SL', ' (kN)'),
    rotText(218, 897, 23, 'SL', ' (kN)'),
    flatText(435, 272, 23, 'SD', ' (mm)'),
    flatText(418, 683, 26, 'SD', ' (mm)'),
    flatText(432, 1095, 22, 'SD', ' (mm)'),
    note(422, 95, 'Processe I'),
    note(20, 139, 'Processe IV'),
    note(100, 343, 'Processe III'),
    note(367, 343, 'Processe II'),
    caption(395, captions[0]),
    caption(829, captions[1]),
    caption(1267, captions[2])
]

const chart = echarts.init(document.getElementById('chart'))
chart.setOption(option)
</script>
</body>
</html>
